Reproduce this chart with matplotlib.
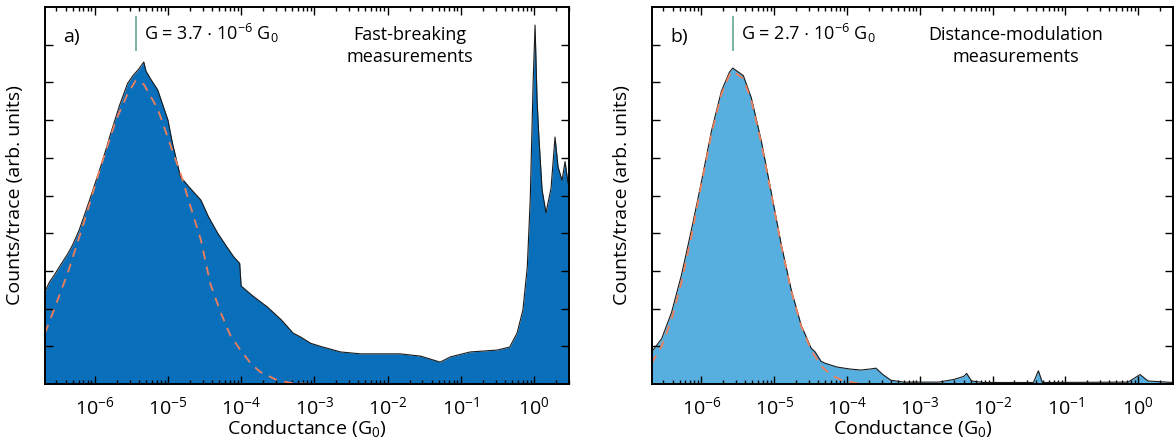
import numpy as np
import matplotlib
matplotlib.use("Agg")
import matplotlib.pyplot as plt
from matplotlib.ticker import LogLocator, FixedLocator, NullFormatter

plt.rcParams['font.family'] = ['Open Sans', 'DejaVu Sans']
plt.rcParams['mathtext.fontset'] = 'custom'
plt.rcParams['mathtext.rm'] = 'Open Sans'
plt.rcParams['mathtext.it'] = 'Open Sans:italic'
plt.rcParams['mathtext.default'] = 'regular'

# panel a: fast-breaking histogram (log10 conductance, counts/trace)
lg_a = [-6.68, -6.62, -6.55, -6.47, -6.37, -6.30, -6.22, -6.15, -6.05, -5.92,
        -5.85, -5.78, -5.66, -5.55, -5.47, -5.40, -5.33, -5.30, -5.24, -5.14,
        -5.00, -4.94, -4.83, -4.70, -4.55, -4.45, -4.32, -4.20, -4.10, -4.02,
        -4.00, -3.85, -3.64, -3.45, -3.29, -3.19, -3.05, -2.92, -2.64, -2.37,
        -2.10, -1.83, -1.55, -1.28, -1.14, -0.87, -0.50, -0.33, -0.23, -0.15,
        -0.09, -0.05, -0.01, 0.016, 0.044, 0.071, 0.112, 0.166, 0.235, 0.289,
        0.330, 0.385, 0.426, 0.467, 0.48]
counts_a = [2.45, 2.7, 2.9, 3.15, 3.45, 3.7, 4.05, 4.43, 5.0, 5.76,
            6.2, 6.66, 7.4, 7.98, 8.2, 8.35, 8.54, 8.3, 8.1, 7.8,
            7.0, 6.4, 5.5, 5.2, 4.88, 4.45, 4.0, 3.65, 3.37, 3.2,
            2.6, 2.35, 2.04, 1.7, 1.35, 1.25, 1.08, 1.0, 0.85, 0.8,
            0.8, 0.8, 0.74, 0.58, 0.72, 0.85, 0.9, 0.98, 1.35, 1.96,
            3.1, 4.88, 8.0, 9.52, 7.5, 6.47, 5.15, 4.54, 5.2, 6.55,
            5.76, 5.4, 5.9, 5.33, 5.4]

# panel a: gaussian fit (dashed)
lg_fit_a = [-6.68, -6.60, -6.37, -6.15, -5.92, -5.71, -5.55, -5.44, -5.33, -5.14,
            -4.96, -4.83, -4.69, -4.55, -4.42, -4.28, -4.15, -4.01, -3.87, -3.74,
            -3.53, -3.33, -3.05, 0.48]
fit_a = [1.35, 1.75, 2.94, 4.27, 5.76, 7.0, 7.7, 8.05, 7.95, 7.3,
         6.3, 5.6, 4.7, 3.82, 2.65, 1.9, 1.3, 0.9, 0.55, 0.32,
         0.12, 0.03, 0.0, 0.0]

# panel b: distance-modulation histogram
lg_b = [-6.685, -6.548, -6.411, -6.274, -6.137, -6.0, -5.863, -5.726, -5.616, -5.57,
        -5.425, -5.315, -5.178, -5.041, -4.904, -4.767, -4.630, -4.493, -4.438, -4.356,
        -4.301, -4.137, -3.973, -3.808, -3.671, -3.603, -3.507, -3.397, -3.219, -2.740,
        -2.534, -2.397, -2.356, -2.288, -2.123, -1.438, -1.370, -1.315, -0.137, 0.027,
        0.137, 0.479]
counts_b = [0.85, 1.2, 1.9, 2.9, 4.1, 5.37, 6.71, 7.77, 8.27, 8.38,
            8.18, 7.59, 6.45, 5.08, 3.7, 2.5, 1.56, 0.95, 0.85, 0.6,
            0.55, 0.45, 0.4, 0.37, 0.4, 0.42, 0.25, 0.1, 0.05, 0.05,
            0.12, 0.2, 0.28, 0.08, 0.04, 0.04, 0.35, 0.04, 0.05, 0.25,
            0.08, 0.04]

lg_fit_b = [-6.685, -6.548, -6.411, -6.274, -6.137, -6.0, -5.863, -5.726, -5.616, -5.57,
            -5.425, -5.315, -5.178, -5.041, -4.904, -4.767, -4.630, -4.493, -4.356, -4.219,
            -4.082, -3.945, -3.80]
fit_b = [0.55, 1.0, 1.71, 2.7, 3.93, 5.31, 6.64, 7.69, 8.2, 8.3,
         8.1, 7.52, 6.39, 5.04, 3.67, 2.47, 1.54, 0.9, 0.48, 0.24,
         0.11, 0.05, 0.0]

peak_a = 3.7e-6
peak_b = 2.7e-6
decades = [-6, -5, -4, -3, -2, -1, 0]

fig = plt.figure(figsize=(11.74, 4.42), dpi=100)
ax_a = fig.add_axes([45 / 1174, 58 / 442, 524 / 1174, 377 / 442])
ax_b = fig.add_axes([652 / 1174, 58 / 442, 521 / 1174, 377 / 442])

panels = [
    (ax_a, lg_a, counts_a, lg_fit_a, fit_a, '#0a6fbb', 'a)', peak_a, '3.7',
     'Fast-breaking\nmeasurements', 10 ** -1.69),
    (ax_b, lg_b, counts_b, lg_fit_b, fit_b, '#57afe0', 'b)', peak_b, '2.7',
     'Distance-modulation\nmeasurements', 10 ** -1.68),
]

for ax, lg, cnt, lgf, fit, col, tag, gpk, gtxt, title, tx in panels:
    g = 10 ** np.array(lg)
    ax.fill_between(g, 0, cnt, color=col, lw=0)
    ax.plot(g, cnt, color='#1a1a1a', lw=0.8)
    ax.plot(10 ** np.array(lgf), fit, color='#ee7f5a', lw=1.3, ls=(0, (5, 4)))
    ax.set_xscale('log')
    ax.set_xlim(10 ** -6.68, 10 ** 0.48)
    ax.set_ylim(0, 10)

    ax.xaxis.set_major_locator(FixedLocator([10.0 ** d for d in decades]))
    ax.set_xticklabels([r'$10^{%d}$' % d for d in decades])
    ax.xaxis.set_minor_locator(LogLocator(base=10, subs=np.arange(2, 10), numticks=20))
    ax.xaxis.set_minor_formatter(NullFormatter())
    ax.set_yticks(np.arange(1, 10))
    ax.set_yticklabels([])
    ax.tick_params(which='both', direction='in', top=True, right=True, width=1.0)
    ax.tick_params(which='major', length=6, labelsize=14, pad=9)
    ax.tick_params(which='minor', length=3)
    for s in ax.spines.values():
        s.set_linewidth(1.4)

    ax.set_xlabel(r'Conductance (G$_0$)', fontsize=14, labelpad=0)
    ax.set_ylabel('Counts/trace (arb. units)', fontsize=14, labelpad=6)

    ax.plot([gpk, gpk], [8.86, 9.73], color='#6fae98', lw=1.3)
    ax.text(gpk * 1.28, 9.3, r'G = %s $\cdot$ 10$^{-6}$ G$_0$' % gtxt,
            fontsize=13, va='center', ha='left')
    ax.text(10 ** -6.43, 9.2, tag, fontsize=14, va='center', ha='left')
    ax.text(tx, 8.97, title, fontsize=13, va='center', ha='center', linespacing=1.3)

fig.savefig('out.png', dpi=100)
